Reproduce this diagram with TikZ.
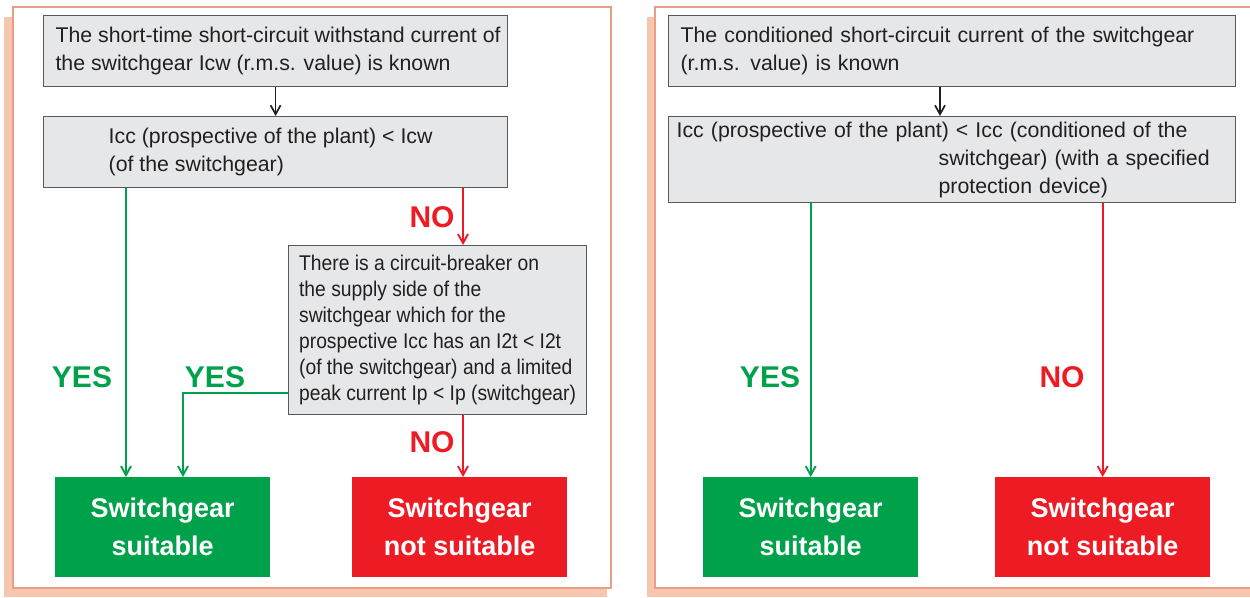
\documentclass[tikz,border=0pt]{standalone}
\usepackage{fontspec}
\setmainfont{Liberation Sans}
\newfontfamily\narrowsans[FakeStretch=0.905]{Liberation Sans}
\usetikzlibrary{arrows.meta}
\definecolor{boxgray}{HTML}{E6E7E8}
\definecolor{boxline}{HTML}{58595B}
\definecolor{okgreen}{HTML}{00A14B}
\definecolor{nored}{HTML}{ED1C24}
\definecolor{framesalmon}{HTML}{EA9E86}
\definecolor{shadowsalmon}{HTML}{F6C6AE}
\definecolor{inktext}{HTML}{231F20}
\tikzset{
  infobox/.style={draw=boxline, line width=1.2pt, fill=boxgray, text=inktext,
    anchor=north west, align=left, inner sep=0pt,
    font=\fontsize{21.3}{28}\selectfont},
  verdict/.style={anchor=north west, minimum width=215pt, minimum height=100pt,
    inner sep=0pt, text=white, align=center,
    font=\bfseries\fontsize{27}{38}\selectfont},
  answer/.style={font=\bfseries\fontsize{30}{30}\selectfont},
  barb/.style={-{Straight Barb[length=9pt,width=10pt]}},
  plainline/.style={draw=inktext, line width=1.7pt, barb},
  yesline/.style={draw=okgreen, line width=1.9pt, barb},
  noline/.style={draw=nored, line width=1.9pt, barb}
}

\begin{document}
\begin{tikzpicture}[x=1pt,y=-1pt]
  \useasboundingbox (0,0) rectangle (1250,597);
  % panels with their shadow
  \fill[shadowsalmon] (4,17) rectangle (607,597);
  \draw[framesalmon, line width=1.2pt, fill=white] (13,7) rectangle (611,588);
  \fill[shadowsalmon] (647,17) rectangle (1252,597);
  \draw[framesalmon, line width=1.2pt, fill=white] (655,7) rectangle (1254,588);

  % left chart
  \node[infobox, minimum width=464pt, minimum height=71pt] (known1) at (43,15)
    {\hspace*{5pt}The short-time short-circuit withstand current of\\\hspace*{5pt}the switchgear Icw (r.m.s. value) is known};
  \node[infobox, minimum width=464pt, minimum height=71pt] (check1) at (43,116)
    {Icc (prospective of the plant) < Icw\hspace*{10pt}\\(of the switchgear)};
  \node[infobox, minimum width=298pt, minimum height=169pt,
        font=\narrowsans\fontsize{21.3}{26}\selectfont] (breaker) at (288,245)
    {There is a circuit-breaker on\\the supply side of the\\switchgear which for the\\prospective Icc has an I2t < I2t\\(of the switchgear) and a limited\\peak current Ip < Ip (switchgear)};
  \node[verdict, fill=okgreen] (fit1) at (55,477) {Switchgear\\suitable};
  \node[verdict, fill=nored] (unfit1) at (352,477) {Switchgear\\not suitable};

  \coordinate (yescol) at (126,0);
  \coordinate (turncol) at (183,393);
  \coordinate (nocol) at (463,0);

  \draw[plainline] (known1.south) -- (check1.north);
  \draw[noline] (check1.south -| nocol) -- (breaker.north -| nocol);
  \draw[yesline] (check1.south -| yescol) -- (fit1.north -| yescol);
  \draw[yesline] (breaker.west |- turncol) -| (fit1.north -| turncol);
  \draw[noline] (breaker.south -| nocol) -- (unfit1.north -| nocol);

  \node[answer, text=okgreen] (yes1) at (82,377) {YES};
  \node[answer, text=okgreen] (yes2) at (215,377) {YES};
  \node[answer, text=nored] (no1) at (432,217) {NO};
  \node[answer, text=nored] (no2) at (432,442) {NO};

  % right chart
  \node[infobox, minimum width=567pt, minimum height=71pt, text width=543pt] (known2) at (668,15)
    {The conditioned short-circuit current of the switchgear\\(r.m.s. value) is known};
  \node[infobox, minimum width=567pt, minimum height=86pt, text width=551pt] (check2) at (668,116)
    {Icc (prospective of the plant) < Icc (conditioned of the\\
     \hspace*{262pt}switchgear) (with a specified\\
     \hspace*{262pt}protection device)};
  \node[verdict, fill=okgreen] (fit2) at (703,477) {Switchgear\\suitable};
  \node[verdict, fill=nored] (unfit2) at (995,477) {Switchgear\\not suitable};

  \coordinate (downcol) at (940,0);

  \draw[plainline] (known2.south -| downcol) -- (check2.north -| downcol);
  \draw[yesline] (check2.south -| fit2.north) -- (fit2.north);
  \draw[noline] (check2.south -| unfit2.north) -- (unfit2.north);

  \node[answer, text=okgreen] (yes3) at (770,377) {YES};
  \node[answer, text=nored] (no3) at (1062,377) {NO};
\end{tikzpicture}
\end{document}
